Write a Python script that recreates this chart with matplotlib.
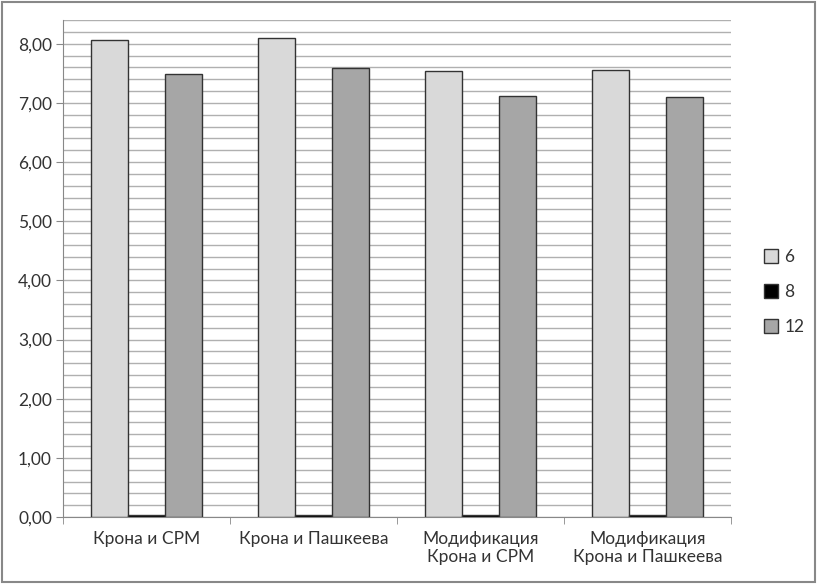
import matplotlib

matplotlib.use("Agg")
import matplotlib.pyplot as plt
import numpy as np
from matplotlib.patches import Rectangle
from matplotlib.ticker import FuncFormatter, MultipleLocator

plt.rcParams["font.family"] = ["Lato", "DejaVu Sans"]

categories = [
    "Крона и СРМ",
    "Крона и Пашкеева",
    "Модификация\nКрона и СРМ",
    "Модификация\nКрона и Пашкеева",
]
series_names = ["6", "8", "12"]
vals_6 = [8.07, 8.10, 7.53, 7.55]
vals_8 = [0.03, 0.03, 0.03, 0.03]
vals_12 = [7.49, 7.59, 7.11, 7.10]

colors = {"6": "#d9d9d9", "8": "#000000", "12": "#a6a6a6"}

fig = plt.figure(figsize=(8.17, 5.84), dpi=100)
ax = fig.add_axes([63 / 817, 1 - 517 / 584, (731 - 63) / 817, (517 - 20) / 584])

x = np.arange(len(categories))
w = 0.22
for k, (name, vals) in enumerate(zip(series_names, [vals_6, vals_8, vals_12])):
    ax.bar(x + (k - 1) * w, vals, width=w, color=colors[name],
           edgecolor="#333333", linewidth=1.0, label=name, zorder=3)

ax.set_xlim(-0.5, len(categories) - 0.5)
ax.set_ylim(0, 8.4)
ax.yaxis.set_major_locator(MultipleLocator(1))
ax.yaxis.set_minor_locator(MultipleLocator(0.2))
ax.yaxis.set_major_formatter(FuncFormatter(lambda v, _: f"{v:.2f}".replace(".", ",")))
ax.grid(axis="y", which="both", color="#b0b0b0", lw=1.0, zorder=0)
ax.tick_params(axis="y", which="major", length=5, color="#888888", labelsize=12.5,
               labelcolor="#333333", pad=3)
ax.tick_params(axis="y", which="minor", length=0)

ax.set_xticks(x)
ax.set_xticklabels(categories, fontsize=12.5, color="#333333")
ax.tick_params(axis="x", which="major", length=0, pad=10)
ax.set_xticks(np.arange(len(categories) + 1) - 0.5, minor=True)
ax.tick_params(axis="x", which="minor", length=5, color="#888888")

for side in ["top", "right"]:
    ax.spines[side].set_visible(False)
for side in ["left", "bottom"]:
    ax.spines[side].set_color("#888888")

leg = fig.legend(loc="center left", bbox_to_anchor=(748 / 817, 1 - 292 / 584),
                 frameon=False, fontsize=12.5, handlelength=0.8, handleheight=0.8,
                 handletextpad=0.4, labelspacing=1.1)
for t in leg.get_texts():
    t.set_color("#333333")

fig.patches.append(Rectangle((0.002, 0.003), 0.996, 0.994, transform=fig.transFigure,
                             fill=False, edgecolor="#888888", lw=1.5))

fig.savefig("out.png", dpi=100)
